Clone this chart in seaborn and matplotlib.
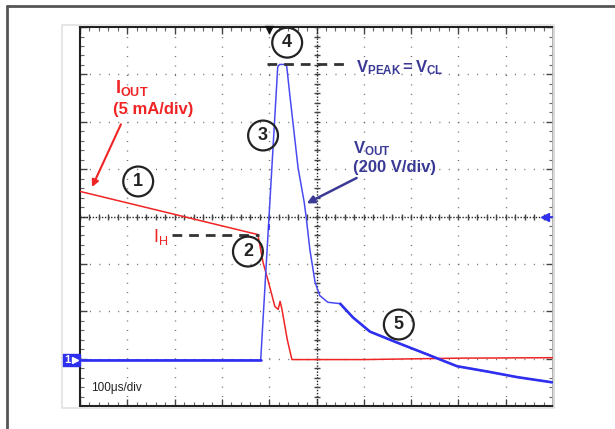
import numpy as np
import pandas as pd
import seaborn as sns
import matplotlib.pyplot as plt
from matplotlib.lines import Line2D
from matplotlib.patches import Rectangle

# scope trace in divisions (10 x 8 grid, centre = 0)
t_vout = [0.00, 3.82, 4.18, 4.22, 4.33, 4.37, 4.44, 4.61, 4.74, 4.78, 4.86, 4.97,
          5.07, 5.24, 5.50, 5.77, 6.13, 6.70, 7.34, 7.97, 8.60, 9.24, 9.98]
vout = [-3.03, -3.03, 3.16, 3.21, 3.21, 3.17, 2.53, 1.03, 0.30, 0.00, -0.70, -1.39,
        -1.67, -1.81, -1.84, -2.13, -2.43, -2.66, -2.91, -3.16, -3.27, -3.39, -3.50]

t_iout = [0.00, 3.59, 3.76, 3.87, 3.97, 4.12, 4.19, 4.23, 4.27, 4.38, 4.48, 6.00, 8.00, 10.00]
iout = [0.53, -0.34, -0.38, -0.97, -1.33, -1.90, -1.96, -1.79, -1.96, -2.59, -3.02, -3.02, -2.99, -2.98]

# numbered call-outs
marks = ['1', '2', '3', '4', '5']
mark_x = [1.23, 3.55, 3.87, 4.38, 6.74]
mark_y = [0.74, -0.74, 1.71, 3.67, -2.28]

df_v = pd.DataFrame({'t': t_vout, 'v': vout})
df_i = pd.DataFrame({'t': t_iout, 'i': iout})

RED = '#f02424'
BLUE = '#2f2ff0'
NAVY = '#3a3a96'

sns.set_theme(style="white")
plt.rcParams['font.family'] = ['Liberation Sans', 'DejaVu Sans']
plt.rcParams['mathtext.fontset'] = 'custom'
plt.rcParams['mathtext.rm'] = 'Liberation Sans'
plt.rcParams['mathtext.bf'] = 'Liberation Sans:bold'
plt.rcParams['mathtext.it'] = 'Liberation Sans:italic'

fig = plt.figure(figsize=(6.15, 4.29), dpi=100)
fig.patch.set_facecolor('white')

# page frame and screenshot border
fig.add_artist(Line2D([0.0114, 1.0], [0.986, 0.986], color='#555555', lw=2))
fig.add_artist(Line2D([0.0114, 0.0114], [0.0, 0.986], color='#555555', lw=2))
fig.add_artist(Rectangle((0.1008, 0.049), 0.80, 0.8927, fill=False,
                         ec='#e2e2e2', lw=1.2))

ax = fig.add_axes([0.1301, 0.0536, 0.7691, 0.8834])
ax.set_facecolor('white')
ax.set_xlim(0, 10)
ax.set_ylim(-4, 4)

# graticule
ax.set_xticks(np.arange(0, 11, 1))
ax.set_yticks(np.arange(-4, 5, 1))
ax.set_xticks(np.arange(0, 10.01, 0.2), minor=True)
ax.set_yticks(np.arange(-4, 4.01, 0.2), minor=True)
ax.grid(which='major', color='#666666', linestyle=(0, (0.7, 6.1)), linewidth=1)
ax.tick_params(which='major', direction='in', length=5, width=1, color='#444444',
               top=True, right=True, bottom=True, left=True,
               labelbottom=False, labelleft=False)
ax.tick_params(which='minor', direction='in', length=3, width=0.8, color='#666666',
               top=True, right=True, bottom=True, left=True)
for s in ['left', 'top', 'bottom']:
    ax.spines[s].set_color('#222222')
    ax.spines[s].set_linewidth(1.5)
ax.spines['right'].set_color('#aaaaaa')
ax.spines['right'].set_linewidth(2)

ax.axhline(0, color='#222222', lw=1, ls=(0, (1, 1.2)), zorder=1)
ax.axvline(5, color='#222222', lw=1, ls=(0, (1, 1.2)), zorder=1)
cx = np.arange(0, 10.01, 0.2)
cy = np.arange(-4, 4.01, 0.2)
ax.plot(cx, np.zeros_like(cx), ls='none', marker='|', ms=5, mew=1, color='#444444', zorder=1)
ax.plot(np.full_like(cy, 5), cy, ls='none', marker='_', ms=5, mew=1, color='#444444', zorder=1)

# traces: fast edges drawn thin/faint like on the scope, slow parts bold
sns.lineplot(data=df_i, x='t', y='i', color=RED, lw=1.1, ax=ax,
             estimator=None, sort=False, zorder=3)
sns.lineplot(data=df_v, x='t', y='v', color='#4a4af2', lw=1.1, ax=ax,
             estimator=None, sort=False, zorder=4)
sns.lineplot(data=df_v.iloc[:2], x='t', y='v', color=BLUE, lw=1.9, ax=ax,
             estimator=None, sort=False, zorder=4)
sns.lineplot(data=df_v[df_v['t'] >= 5.5], x='t', y='v', color=BLUE, lw=1.9, ax=ax,
             estimator=None, sort=False, zorder=4)
ax.set_xlabel('')
ax.set_ylabel('')

# scope markers
ax.plot([4.0], [3.95], marker='v', ms=6, color='#111111', clip_on=False, zorder=6)
ax.plot([9.83, 10.0], [0, 0], color=BLUE, lw=1.2, clip_on=False, zorder=6)
ax.plot([9.83], [0], marker='<', ms=6, color=BLUE, clip_on=False, zorder=6)
ax.plot([4.0], [-0.23], marker='|', ms=5, mew=1.2, color=BLUE, zorder=5)
ax.add_patch(Rectangle((-0.38, -3.16), 0.38, 0.26, color=BLUE, clip_on=False, zorder=6))
ax.text(-0.27, -3.03, '1', color='white', fontsize=8, fontweight='bold',
        ha='center', va='center', zorder=7)
ax.plot([-0.11], [-3.03], marker='>', ms=4, color='white', clip_on=False, zorder=7)

# call-out circles
ax.scatter(mark_x, mark_y, s=21.5 ** 2, facecolors='none', edgecolors='#222222',
           linewidths=1.6, zorder=6)
for m, x, y in zip(marks, mark_x, mark_y):
    ax.text(x, y, m, fontsize=13, fontweight='bold', color='#222222',
            ha='center', va='center', zorder=7)

# dashed reference lines
ax.plot([1.95, 3.78], [-0.38, -0.38], color='#333333', lw=2, ls=(0, (3.5, 2.5)), zorder=5)
ax.plot([3.95, 5.69], [3.23, 3.23], color='#333333', lw=2, ls=(0, (3.5, 2.5)), zorder=5)

# labels
ax.text(0.74, 2.72, r'$\mathbf{I_{OUT}}$', color=RED, fontsize=13, ha='left', va='center')
ax.text(0.70, 2.26, '(5 mA/div)', color=RED, fontsize=12, fontweight='bold',
        ha='left', va='center')
ax.annotate('', xy=(0.23, 0.57), xytext=(0.89, 2.00),
            arrowprops=dict(arrowstyle='-|>', color=RED, lw=1.5, mutation_scale=10))
ax.text(1.54, -0.44, r'$\mathrm{I_{H}}$', color=RED, fontsize=13, ha='left', va='center')

ax.text(5.84, 3.14, r'$\mathbf{V_{PEAK}=V_{CL}}$', color=NAVY,
        fontsize=12, ha='left', va='center')
ax.text(5.77, 1.43, r'$\mathbf{V_{OUT}}$', color=NAVY, fontsize=12, ha='left', va='center')
ax.text(5.77, 1.03, '(200 V/div)', color=NAVY, fontsize=12, fontweight='bold',
        ha='left', va='center')
ax.annotate('', xy=(4.74, 0.25), xytext=(5.90, 0.84),
            arrowprops=dict(arrowstyle='-|>', color=NAVY, lw=1.8, mutation_scale=11))

ax.text(0.23, -3.61, '100\u03bcs/div', color='#222222', fontsize=8.5, ha='left', va='center')

plt.savefig('out.png', dpi=100)
